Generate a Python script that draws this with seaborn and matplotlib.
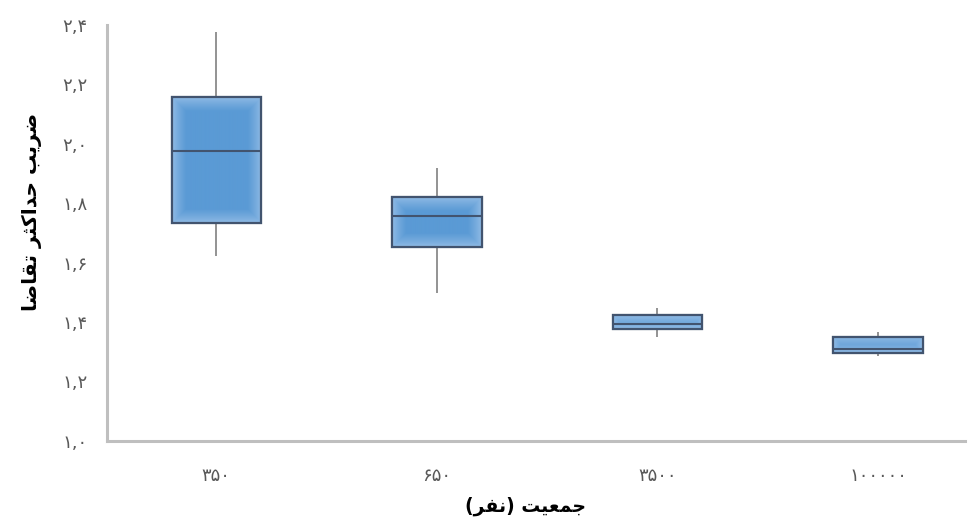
import numpy as np
import pandas as pd
import matplotlib
matplotlib.use('Agg')
import matplotlib.pyplot as plt
import seaborn as sns
from matplotlib.patches import Rectangle
from matplotlib.colors import to_rgb

# ========================
# DATA (five-number summary)
# ========================
populations = ['۳۵۰', '۶۵۰', '۳۵۰۰', '۱۰۰۰۰۰']
whisker_low = [1.623, 1.497, 1.351, 1.284]
q1 = [1.734, 1.654, 1.378, 1.295]
median = [1.976, 1.755, 1.393, 1.309]
q3 = [2.158, 1.822, 1.423, 1.350]
whisker_high = [2.377, 1.919, 1.447, 1.365]

y_ticks = [1.0, 1.2, 1.4, 1.6, 1.8, 2.0, 2.2, 2.4]
y_tick_labels = ['۱,۰', '۱,۲', '۱,۴', '۱,۶', '۱,۸', '۲,۰', '۲,۲', '۲,۴']

x_title = 'جمعیت (نفر)'
y_title = 'ضریب حداکثر تقاضا'

# ========================
# ARABIC SHAPING (matplotlib has no bidi / joining)
# ========================
FORMS = {
    'ا': ('\uFE8D', '\uFE8E'),
    'د': ('\uFEA9', '\uFEAA'),
    'ر': ('\uFEAD', '\uFEAE'),
    'ب': ('\uFE8F', '\uFE90', '\uFE91', '\uFE92'),
    'ت': ('\uFE95', '\uFE96', '\uFE97', '\uFE98'),
    'ث': ('\uFE99', '\uFE9A', '\uFE9B', '\uFE9C'),
    'ج': ('\uFE9D', '\uFE9E', '\uFE9F', '\uFEA0'),
    'ح': ('\uFEA1', '\uFEA2', '\uFEA3', '\uFEA4'),
    'ض': ('\uFEBD', '\uFEBE', '\uFEBF', '\uFEC0'),
    'ع': ('\uFEC9', '\uFECA', '\uFECB', '\uFECC'),
    'ف': ('\uFED1', '\uFED2', '\uFED3', '\uFED4'),
    'ق': ('\uFED5', '\uFED6', '\uFED7', '\uFED8'),
    'ک': ('\uFB8E', '\uFB8F', '\uFB90', '\uFB91'),
    'م': ('\uFEE1', '\uFEE2', '\uFEE3', '\uFEE4'),
    'ن': ('\uFEE5', '\uFEE6', '\uFEE7', '\uFEE8'),
    'ی': ('\uFBFC', '\uFBFD', '\uFBFE', '\uFBFF'),
}
MIRROR = {'(': ')', ')': '('}


def shape(text):
    out = []
    for i, ch in enumerate(text):
        f = FORMS.get(ch)
        if f is None:
            out.append(MIRROR.get(ch, ch))
            continue
        prev = text[i - 1] if i > 0 else None
        nxt = text[i + 1] if i + 1 < len(text) else None
        join_prev = prev in FORMS and len(FORMS[prev]) == 4
        join_next = len(f) == 4 and nxt in FORMS
        if join_prev and join_next:
            out.append(f[3])
        elif join_prev:
            out.append(f[1])
        elif join_next:
            out.append(f[2])
        else:
            out.append(f[0])
    return ''.join(reversed(out))


# long-form table: the five summary values per group give exact quartiles
rows = []
for i, p in enumerate(populations):
    for v in (whisker_low[i], q1[i], median[i], q3[i], whisker_high[i]):
        rows.append({'pop': p, 'value': v})
df = pd.DataFrame(rows)

# ========================
# PLOT
# ========================
sns.set_style('white')
plt.rcParams['font.family'] = ['DejaVu Sans']

fig = plt.figure(figsize=(9.73, 5.18), dpi=100)
ax = fig.add_axes([0.110, 0.149, 0.882, 0.803])

EDGE = '#42546F'
sns.boxplot(data=df, x='pop', y='value', order=populations, ax=ax,
            width=0.405, whis=(0, 100), showcaps=False, showfliers=False,
            color='#5B9BD5', saturation=1,
            boxprops=dict(edgecolor=EDGE, linewidth=1.5),
            whiskerprops=dict(color='#808080', linewidth=1.2),
            medianprops=dict(color=EDGE, linewidth=1.5, zorder=4))

ax.set_xlim(-0.495, 3.395)
ax.set_ylim(1.0, 2.4)
ax.set_yticks(y_ticks)
ax.set_yticklabels(y_tick_labels)

# soft gradient fill: lighter rim, darker centre
light = np.array(to_rgb('#94BDE6'))
dark = np.array(to_rgb('#5A9AD5'))
fig.canvas.draw()
for i in range(len(populations)):
    x0, x1 = i - 0.2025, i + 0.2025
    y0, y1 = q1[i], q3[i]
    (px0, py0), (px1, py1) = ax.transData.transform([(x0, y0), (x1, y1)])
    w = max(int(round(px1 - px0)), 2)
    h = max(int(round(py1 - py0)), 2)
    xx = np.minimum(np.arange(w) + 0.5, w - np.arange(w) - 0.5)
    yy = np.minimum(np.arange(h) + 0.5, h - np.arange(h) - 0.5)
    d = np.minimum(xx[None, :], yy[:, None])
    t = np.clip(d / 14.0, 0, 1) ** 0.8
    t = t[..., None]
    img = light * (1 - t) + dark * t
    ax.imshow(img, extent=(x0, x1, y0, y1), origin='lower', aspect='auto',
              interpolation='bilinear', zorder=2.5)
    ax.add_patch(Rectangle((x0, y0), x1 - x0, y1 - y0, fill=False,
                           edgecolor=EDGE, linewidth=1.6, zorder=3))
ax.set_xlim(-0.495, 3.395)
ax.set_ylim(1.0, 2.4)

for side in ['top', 'right']:
    ax.spines[side].set_visible(False)
for side in ['left', 'bottom']:
    ax.spines[side].set_color('#BFBFBF')
    ax.spines[side].set_linewidth(2.2)

ax.tick_params(axis='both', length=0, colors='#595959', labelsize=13)
ax.tick_params(axis='y', pad=14)
ax.tick_params(axis='x', pad=19)

ax.set_xlabel(shape(x_title), fontsize=13.5, fontweight='bold', color='black', va='center')
ax.set_ylabel(shape(y_title), fontsize=14.5, fontweight='bold', color='black', va='center')
ax.xaxis.set_label_coords(0.488, -0.158)
ax.yaxis.set_label_coords(-0.088, 0.55)
ax.grid(False)

plt.savefig('out.png', dpi=100)
plt.close()
